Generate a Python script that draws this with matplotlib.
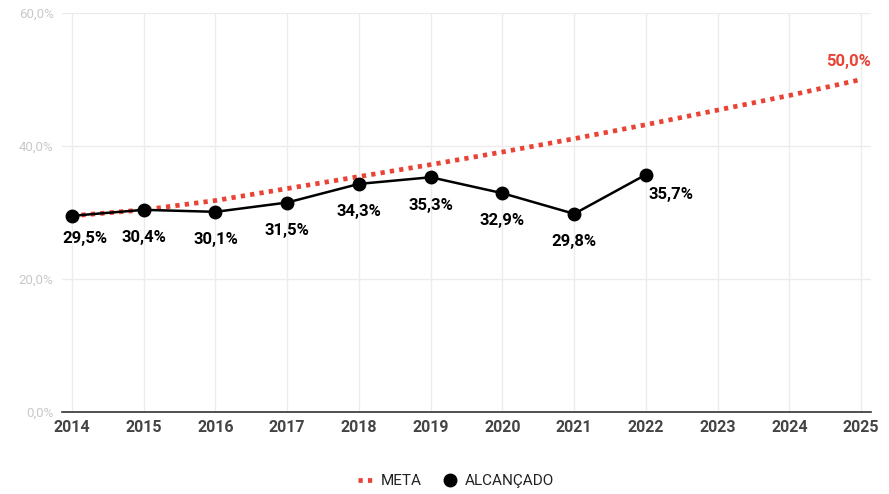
import matplotlib
matplotlib.use("Agg")
import matplotlib.pyplot as plt
from matplotlib.lines import Line2D

plt.rcParams["font.family"] = ["Roboto", "DejaVu Sans"]

anos = [2014, 2015, 2016, 2017, 2018, 2019, 2020, 2021, 2022, 2023, 2024, 2025]
meta = [29.5, 30.4, 31.8, 33.6, 35.4, 37.2, 39.1, 41.1, 43.2, 45.4, 47.6, 50.0]
anos_alc = [2014, 2015, 2016, 2017, 2018, 2019, 2020, 2021, 2022]
alcancado = [29.5, 30.4, 30.1, 31.5, 34.3, 35.3, 32.9, 29.8, 35.7]

red = "#ea4335"

fig = plt.figure(figsize=(8.89, 4.94), dpi=100)
ax = fig.add_axes([0.0697, 0.166, 0.9103, 0.8077])

ax.plot(anos, meta, color=red, lw=3.4, ls=(0, (0.9, 1.1)), dash_capstyle="butt", zorder=3)
ax.plot(anos_alc, alcancado, color="black", lw=1.8, marker="o", ms=9, zorder=4)

for i, (x, y) in enumerate(zip(anos_alc, alcancado)):
    txt = ("%.1f%%" % y).replace(".", ",")
    if i == 0:
        ax.annotate(txt, (x, y), xytext=(-7, -16), textcoords="offset points",
                    ha="left", va="center", fontsize=12, fontweight="bold")
    elif i == len(alcancado) - 1:
        ax.annotate(txt, (x, y), xytext=(2, -14), textcoords="offset points",
                    ha="left", va="center", fontsize=12, fontweight="bold")
    else:
        ax.annotate(txt, (x, y), xytext=(0, -20), textcoords="offset points",
                    ha="center", va="center", fontsize=12, fontweight="bold")

ax.annotate(("%.1f%%" % meta[-1]).replace(".", ","), (anos[-1], meta[-1]),
            xytext=(7, 13), textcoords="offset points", ha="right", va="center",
            fontsize=12, fontweight="bold", color=red)

ax.set_xlim(2013.86, 2025.14)
ax.set_ylim(0, 60)
ax.set_xticks(anos)
ax.set_xticklabels([str(a) for a in anos], fontsize=11.5, fontweight="bold", color="#444444")
ax.set_yticks([0, 20, 40, 60])
ax.set_yticklabels(["0,0%", "20,0%", "40,0%", "60,0%"], fontsize=9.5, color="#c8c8c8")
ax.tick_params(axis="both", length=0)
ax.tick_params(axis="y", pad=6)
ax.tick_params(axis="x", pad=6)
ax.grid(True, color="#ececec", lw=1)
ax.set_axisbelow(True)
for s in ["top", "right", "left"]:
    ax.spines[s].set_visible(False)
ax.spines["bottom"].set_color("#333333")
ax.spines["bottom"].set_linewidth(1.2)

handles = [
    Line2D([], [], color=red, lw=3.4, ls=(0, (0.9, 1.1))),
    Line2D([], [], color="black", lw=0, marker="o", ms=9),
]
fig.legend(handles, ["META", "ALCANÇADO"], loc="center", bbox_to_anchor=(0.513, 0.026),
           ncol=2, frameon=False, fontsize=11, handlelength=1.0, columnspacing=1.3,
           handletextpad=0.5, labelcolor="#222222")

fig.savefig("out.png", dpi=100)
